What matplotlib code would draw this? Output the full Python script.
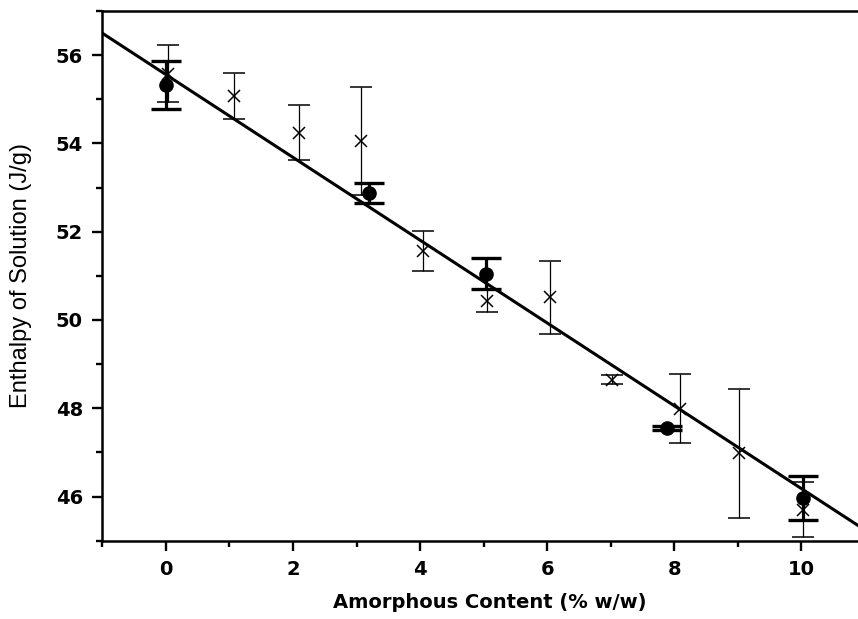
import numpy as np
import matplotlib
matplotlib.use("Agg")
import matplotlib.pyplot as plt
from matplotlib.ticker import MultipleLocator

# filled circles (thick error bars)
solid_x = [0.0, 3.2, 5.03, 7.88, 10.02]
solid_y = [55.32, 52.87, 51.05, 47.55, 45.97]
solid_err = [0.54, 0.23, 0.35, 0.05, 0.50]

# crosses (thin error bars)
cross_x = [0.03, 1.07, 2.09, 3.07, 4.04, 5.05, 6.05, 7.02, 8.09, 9.02, 10.02]
cross_y = [55.58, 55.08, 54.24, 54.06, 51.57, 50.43, 50.51, 48.65, 47.99, 46.98, 45.70]
cross_err = [0.64, 0.52, 0.62, 1.22, 0.45, 0.26, 0.83, 0.10, 0.78, 1.46, 0.62]

# linear fit
fit_intercept = 55.56
fit_slope = -0.938

fig = plt.figure(figsize=(8.58, 6.19), dpi=100)
ax = fig.add_axes([102.3 / 858, 1 - 540.7 / 619, (865 - 102.3) / 858, (540.7 - 11) / 619])

xx = np.array([-1.0, 11.0])
ax.plot(xx, fit_intercept + fit_slope * xx, color='black', lw=2.2, zorder=2)

ax.errorbar(cross_x, cross_y, yerr=cross_err, fmt='x', color='black', ms=9, mew=1.1,
            elinewidth=0.9, capsize=8, capthick=0.9, zorder=3)
ax.errorbar(solid_x, solid_y, yerr=solid_err, fmt='o', color='black', ms=9.5,
            elinewidth=2.3, capsize=11, capthick=2.4, zorder=4)

ax.set_xlim(-1, 11)
ax.set_ylim(45, 57)
ax.xaxis.set_major_locator(MultipleLocator(2))
ax.xaxis.set_minor_locator(MultipleLocator(1))
ax.yaxis.set_minor_locator(MultipleLocator(1))
ax.set_yticks([46, 48, 50, 52, 54, 56])

ax.tick_params(which='major', direction='out', length=7, width=1.7, pad=7, labelsize=14)
ax.tick_params(which='minor', direction='out', length=4, width=1.7)
for lab in ax.get_xticklabels() + ax.get_yticklabels():
    lab.set_fontfamily('DejaVu Sans')
    lab.set_fontweight('bold')

for s in ['left', 'bottom', 'top']:
    ax.spines[s].set_linewidth(1.8)
ax.spines['right'].set_visible(False)

ax.set_xlabel('Amorphous Content (% w/w)', fontsize=14, fontweight='bold', family='DejaVu Sans')
ax.xaxis.set_label_coords(0.508, -0.099)
ax.set_ylabel('Enthalpy of Solution (J/g)', fontsize=17, family='Liberation Sans')
ax.yaxis.label.set_va('center')
ax.yaxis.set_label_coords(-0.107, 0.5)

fig.savefig('out.png', dpi=100)
